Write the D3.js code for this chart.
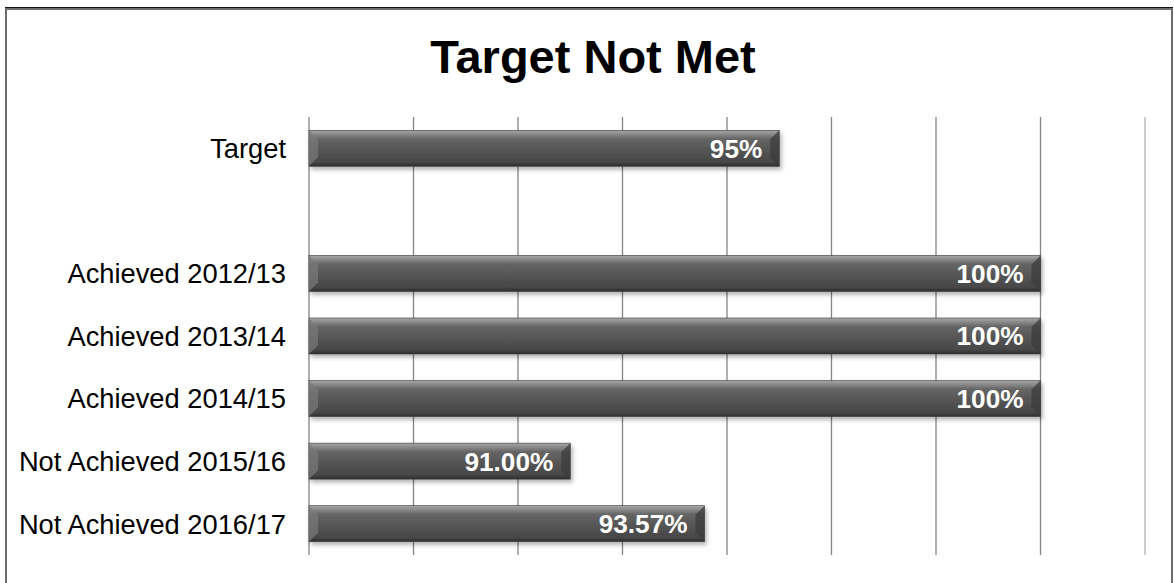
<!DOCTYPE html>
<html>
<head>
<meta charset="utf-8">
<script src="https://cdn.jsdelivr.net/npm/d3@7"></script>
<style>
  html, body { margin: 0; padding: 0; background: #fff; }
  svg { display: block; }
</style>
</head>
<body>
<svg id="chart"></svg>
<script>
// chart data
const categories = ["Target", " ", "Achieved 2012/13", "Achieved 2013/14", "Achieved 2014/15", "Not Achieved 2015/16", "Not Achieved 2016/17"];
const values = [95, null, 100, 100, 100, 91.00, 93.57];
const valueLabels = ["95%", "", "100%", "100%", "100%", "91.00%", "93.57%"];
const xTicks = [86, 88, 90, 92, 94, 96, 98, 100, 102];
const chartTitle = "Target Not Met";

const FONT = '"Liberation Sans", Arial, sans-serif';
const width = 1174, height = 583;
const svg = d3.select('#chart').attr('width', width).attr('height', height);

// outer frame
svg.append('rect')
  .attr('x', 6).attr('y', 9)
  .attr('width', 1166).attr('height', 590)
  .style('fill', 'none')
  .style('stroke', '#6e6e6e')
  .style('stroke-width', 2);
svg.append('line')
  .attr('x1', 5).attr('x2', 1173)
  .attr('y1', 7.5).attr('y2', 7.5)
  .style('stroke', '#111')
  .style('stroke-width', 1);

const defs = svg.append('defs');
const grad = defs.append('linearGradient')
  .attr('id', 'barGrad')
  .attr('x1', 0).attr('y1', 0).attr('x2', 0).attr('y2', 1);
[[0, '#a8a8a8'], [0.1, '#8c8c8c'], [0.24, '#656565'], [0.55, '#555'], [0.88, '#474747'], [1, '#2e2e2e']]
  .forEach(s => grad.append('stop').attr('offset', s[0]).attr('stop-color', s[1]));

const shadow = defs.append('filter').attr('id', 'shadow')
  .attr('x', '-5%').attr('y', '-20%').attr('width', '110%').attr('height', '160%');
shadow.append('feDropShadow')
  .attr('dx', 2).attr('dy', 3)
  .attr('stdDeviation', 2)
  .attr('flood-color', '#000')
  .attr('flood-opacity', 0.3);

const x = d3.scaleLinear().domain([86, 102]).range([309, 1145]);
const y = d3.scaleBand().domain(categories).range([117, 555]).paddingInner(0.425).paddingOuter(0.2125);

// gridlines
svg.append('g')
  .attr('class', 'grid')
  .selectAll('line')
  .data(xTicks)
  .enter().append('line')
  .attr('x1', d => x(d)).attr('x2', d => x(d))
  .attr('y1', 117).attr('y2', 555)
  .style('stroke', (d, i) => i === xTicks.length - 1 ? '#b4b4b4' : '#858585')
  .style('stroke-width', 1.3);

// category axis
const yAxis = svg.append('g')
  .attr('transform', 'translate(309,0)')
  .call(d3.axisLeft(y).tickSize(0).tickPadding(23));
yAxis.select('.domain').remove();
yAxis.selectAll('text')
  .style('font-family', FONT)
  .style('font-size', '27.3px')
  .style('fill', '#000')
  .attr('dy', '0.36em');

// bars
const rows = categories.map((c, i) => ({cat: c, value: values[i], label: valueLabels[i]}))
  .filter(d => d.value !== null);

const bars = svg.append('g').attr('class', 'bars')
  .selectAll('g')
  .data(rows)
  .enter().append('g');

const bev = 9;
bars.append('rect')
  .attr('x', x(86))
  .attr('y', d => y(d.cat))
  .attr('width', d => x(d.value) - x(86))
  .attr('height', y.bandwidth())
  .style('fill', 'url(#barGrad)')
  .style('stroke', '#3a3a3a')
  .style('stroke-width', 0.6)
  .attr('filter', 'url(#shadow)');

// bevel edges
bars.append('polygon')
  .attr('points', d => {
    const x0 = x(86), y0 = y(d.cat), y1 = y0 + y.bandwidth();
    return [[x0, y0], [x0 + bev, y0 + bev], [x0 + bev, y1 - bev], [x0, y1]].join(' ');
  })
  .style('fill', '#7a7a7a').style('opacity', 0.7);
bars.append('polygon')
  .attr('points', d => {
    const x1 = x(d.value), y0 = y(d.cat), y1 = y0 + y.bandwidth();
    return [[x1, y0], [x1 - bev, y0 + bev], [x1 - bev, y1 - bev], [x1, y1]].join(' ');
  })
  .style('fill', '#3c3c3c').style('opacity', 0.75);

// value labels
bars.append('text')
  .attr('x', d => x(d.value) - 17)
  .attr('y', d => y(d.cat) + y.bandwidth() / 2)
  .attr('dy', '0.36em')
  .attr('text-anchor', 'end')
  .style('font-family', FONT)
  .style('font-weight', 'bold')
  .style('font-size', '26.2px')
  .style('fill', '#fff')
  .text(d => d.label);

// title
svg.append('text')
  .attr('x', 593)
  .attr('y', 73)
  .attr('text-anchor', 'middle')
  .style('font-family', FONT)
  .style('font-weight', 'bold')
  .style('font-size', '47px')
  .style('fill', '#000')
  .text(chartTitle);
</script>
</body>
</html>
